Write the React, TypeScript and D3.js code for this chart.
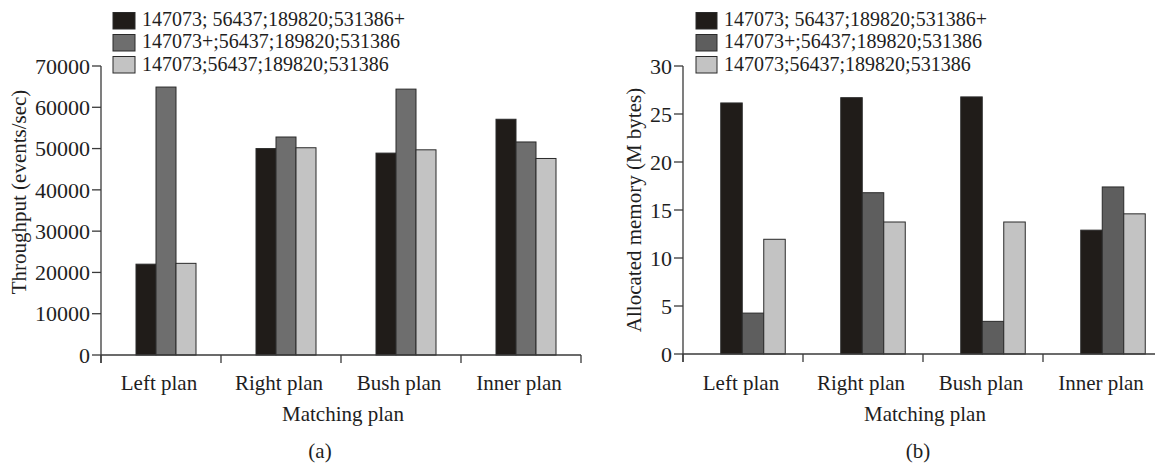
import React from "react";
import * as d3 from "d3";

// Matching plans on the x axis
const plans = ["Left plan", "Right plan", "Bush plan", "Inner plan"];

// Series names (event type orderings)
const seriesNames = [
  "147073; 56437;189820;531386+",
  "147073+;56437;189820;531386",
  "147073;56437;189820;531386",
];

// (a) Throughput (events/sec) per plan, one array per series
const throughputA = [22000, 50000, 48900, 57100];
const throughputB = [64900, 52800, 64400, 51600];
const throughputC = [22200, 50200, 49700, 47600];

// (b) Allocated memory (M bytes) per plan, one array per series
const memoryA = [26.15, 26.7, 26.78, 12.9];
const memoryB = [4.26, 16.8, 3.4, 17.4];
const memoryC = [11.95, 13.75, 13.75, 14.6];

const throughputTicks = [0, 10000, 20000, 30000, 40000, 50000, 60000, 70000];
const memoryTicks = [0, 5, 10, 15, 20, 25, 30];

const FONT = "'Liberation Serif', 'Times New Roman', serif";
const AXIS = "#3a3a3a";

type PanelProps = {
  x0: number;
  x1: number;
  yTop: number;
  yBottom: number;
  yMax: number;
  ticks: number[];
  series: number[][];
  colors: string[];
  barWidth: number;
  groupShift: number;
  yTitle: string;
  yTitleX: number;
  yTitleY: number;
  caption: string;
  captionX: number;
  legendX: number;
  legendW: number;
};

function Panel(p: PanelProps) {
  const x = d3.scaleBand<string>().domain(plans).range([p.x0, p.x1]).padding(0);
  const y = d3.scaleLinear().domain([0, p.yMax]).range([p.yBottom, p.yTop]);
  const boundaries = [...plans.map((c) => x(c) as number), p.x1];
  const midX = (p.x0 + p.x1) / 2;

  return (
    <g>
      {/* legend */}
      {seriesNames.map((name, i) => (
        <g key={name}>
          <rect
            x={p.legendX}
            y={12.5 + i * 22}
            width={p.legendW}
            height={16.5}
            fill={p.colors[i]}
            stroke="#2a2a2a"
            strokeWidth={1}
          />
          <text
            x={p.legendX + p.legendW + 7}
            y={25.5 + i * 22.5}
            fontSize={20}
            fontFamily={FONT}
            fill="#1e1e1e"
          >
            {name}
          </text>
        </g>
      ))}

      {/* bars */}
      {plans.map((plan, pi) => {
        const center = (x(plan) as number) + x.bandwidth() / 2 + p.groupShift;
        const start = center - (p.barWidth * p.series.length) / 2;
        return p.series.map((vals, si) => (
          <rect
            key={plan + si}
            x={start + si * p.barWidth}
            y={y(vals[pi])}
            width={p.barWidth}
            height={p.yBottom - y(vals[pi])}
            fill={p.colors[si]}
            stroke="#2a2a2a"
            strokeWidth={1}
          />
        ));
      })}

      {/* y axis */}
      <line x1={p.x0} x2={p.x0} y1={p.yTop} y2={p.yBottom + 8} stroke={AXIS} strokeWidth={1.3} />
      {p.ticks.map((t) => (
        <g key={t}>
          <line x1={p.x0 - 9} x2={p.x0} y1={y(t)} y2={y(t)} stroke={AXIS} strokeWidth={1.3} />
          <text
            x={p.x0 - 11}
            y={y(t)}
            dy="0.35em"
            textAnchor="end"
            fontSize={22}
            fontFamily={FONT}
            fill="#1e1e1e"
          >
            {t}
          </text>
        </g>
      ))}

      {/* x axis */}
      <line x1={p.x0} x2={p.x1} y1={p.yBottom} y2={p.yBottom} stroke={AXIS} strokeWidth={1.3} />
      {boundaries.map((b, i) => (
        <line key={i} x1={b} x2={b} y1={p.yBottom} y2={p.yBottom + 8} stroke={AXIS} strokeWidth={1.3} />
      ))}
      {plans.map((plan) => (
        <text
          key={plan}
          x={(x(plan) as number) + x.bandwidth() / 2 - 2}
          y={390}
          textAnchor="middle"
          fontSize={21}
          fontFamily={FONT}
          fill="#1e1e1e"
        >
          {plan}
        </text>
      ))}
      <text x={midX + 2} y={421} textAnchor="middle" fontSize={21} fontFamily={FONT} fill="#1e1e1e">
        Matching plan
      </text>
      <text x={p.captionX} y={458} textAnchor="middle" fontSize={21} fontFamily={FONT} fill="#1e1e1e">
        {p.caption}
      </text>

      {/* y title */}
      <text
        transform={`translate(${p.yTitleX},${p.yTitleY}) rotate(-90)`}
        textAnchor="middle"
        dy="0.35em"
        fontSize={21}
        fontFamily={FONT}
        fill="#1e1e1e"
      >
        {p.yTitle}
      </text>
    </g>
  );
}

export default function App() {
  return (
    <svg
      width={1155}
      height={467}
      style={{ position: "fixed", left: 0, top: 0, background: "#ffffff" }}
    >
      <rect width={1155} height={467} fill="#ffffff" />
      <Panel
        x0={101}
        x1={581}
        yTop={66}
        yBottom={355}
        yMax={70000}
        ticks={throughputTicks}
        series={[throughputA, throughputB, throughputC]}
        colors={["#201c19", "#6e6e6e", "#c3c3c3"]}
        barWidth={20}
        groupShift={5}
        yTitle="Throughput (events/sec)"
        yTitleX={19}
        yTitleY={192}
        caption="(a)"
        captionX={320}
        legendX={113}
        legendW={22}
      />
      <Panel
        x0={683}
        x1={1163}
        yTop={66}
        yBottom={354}
        yMax={30}
        ticks={memoryTicks}
        series={[memoryA, memoryB, memoryC]}
        colors={["#201c19", "#5e5e5e", "#c3c3c3"]}
        barWidth={21.5}
        groupShift={10}
        yTitle="Allocated memory (M bytes)"
        yTitleX={634}
        yTitleY={210}
        caption="(b)"
        captionX={918}
        legendX={696}
        legendW={21}
      />
    </svg>
  );
}
